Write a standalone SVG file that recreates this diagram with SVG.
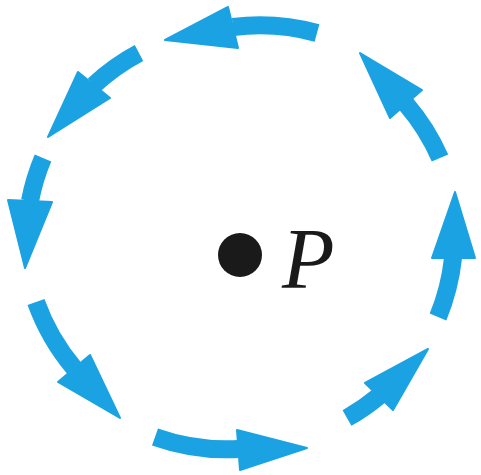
<svg xmlns="http://www.w3.org/2000/svg" width="481" height="475" viewBox="0 0 481 475">
  <style>
    .shaft { fill: none; stroke: #1BA2E3; stroke-width: 18; stroke-linecap: butt; }
    .head { fill: #1BA2E3; stroke: #1BA2E3; stroke-width: 2; stroke-linejoin: round; }
    .label { font-family: "Liberation Serif", "Times New Roman", serif; font-style: italic; font-size: 86px; fill: #1a1a1a; }
  </style>
  <rect width="481" height="475" fill="#ffffff"/>
  <g id="connectors">
    <g id="arrow-top">
      <path class="shaft" d="M317,33 A215,215 0 0 0 233,27"/>
      <polygon class="head" points="165,40 228,7 238,48"/>
    </g>
    <g id="arrow-top-left">
      <path class="shaft" d="M139,53 A215,215 0 0 0 94,85"/>
      <polygon class="head" points="48,137 78,72 110,98"/>
    </g>
    <g id="arrow-left">
      <path class="shaft" d="M43,158 A215,215 0 0 0 30,201"/>
      <polygon class="head" points="25,268 8,200 52,202"/>
    </g>
    <g id="arrow-bottom-left">
      <path class="shaft" d="M36,302 A215,215 0 0 0 74,368"/>
      <polygon class="head" points="120,418 58,382 90,355"/>
    </g>
    <g id="arrow-bottom">
      <path class="shaft" d="M155,437 A215,215 0 0 0 239,449"/>
      <polygon class="head" points="307,448 237,430 240,470"/>
    </g>
    <g id="arrow-bottom-right">
      <path class="shaft" d="M347,418 A215,215 0 0 0 379,396"/>
      <polygon class="head" points="428,349 365,383 393,410"/>
    </g>
    <g id="arrow-right">
      <path class="shaft" d="M438,317 A215,215 0 0 0 453,258"/>
      <polygon class="head" points="455,192 432,258 475,258"/>
    </g>
    <g id="arrow-top-right">
      <path class="shaft" d="M440,158 A215,215 0 0 0 406,104"/>
      <polygon class="head" points="360,53 390,118 422,90"/>
    </g>
  </g>
  <g id="node-P">
    <circle cx="240" cy="255" r="22" fill="#1a1a1a"/>
    <text class="label" x="282" y="288">P</text>
  </g>
</svg>
